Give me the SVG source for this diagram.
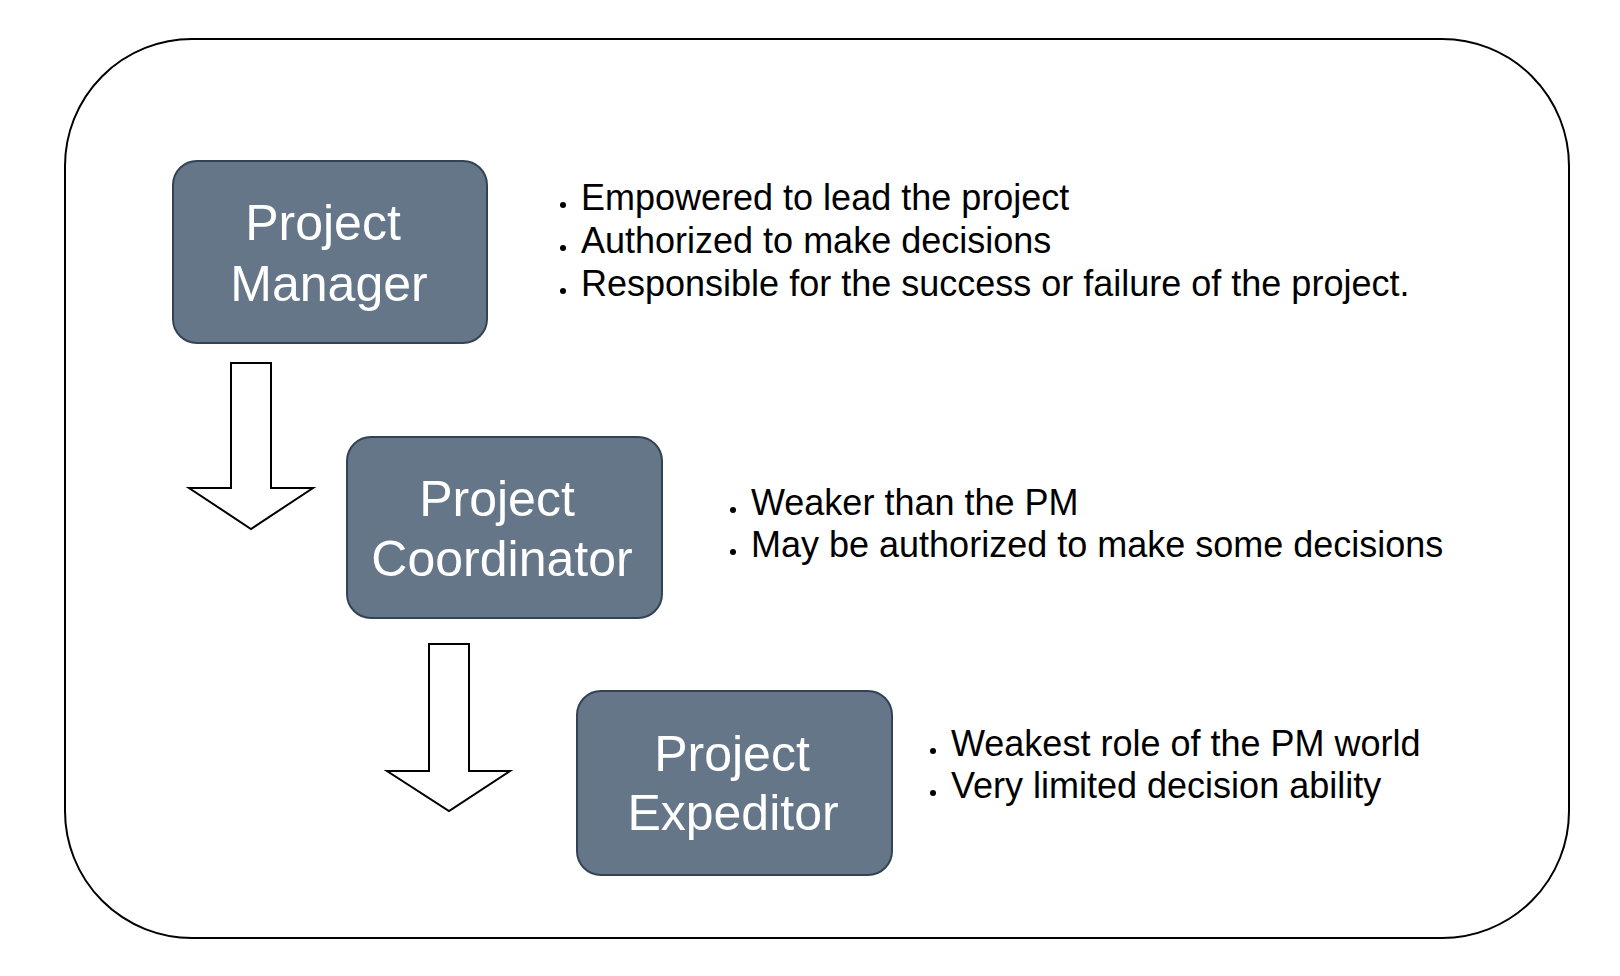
<svg xmlns="http://www.w3.org/2000/svg" width="1620" height="976" viewBox="0 0 1620 976">
  <style>
    .frame { fill: #ffffff; stroke: #000000; stroke-width: 2; }
    .role { fill: #647687; stroke: #314354; stroke-width: 2; }
    .role-label { font-family: "Liberation Sans", Arial, Helvetica, sans-serif; font-size: 50px; fill: #ffffff; text-anchor: middle; }
    .note { font-family: "Liberation Sans", Arial, Helvetica, sans-serif; font-size: 36px; fill: #000000; }
    .dot { fill: #000000; }
    .flow { fill: #ffffff; stroke: #000000; stroke-width: 2; stroke-linejoin: miter; }
  </style>

  <!-- outer rounded frame -->
  <rect class="frame" x="65" y="39" width="1504" height="899" rx="127" ry="127"/>

  <!-- role: Project Manager -->
  <g id="node-project-manager">
    <rect class="role" x="173" y="161" width="314" height="182" rx="24" ry="24"/>
    <text class="role-label" x="323" y="240">Project</text>
    <text class="role-label" x="329" y="301">Manager</text>
  </g>

  <g id="notes-project-manager">
    <circle class="dot" cx="563" cy="205" r="3"/>
    <circle class="dot" cx="563" cy="248" r="3"/>
    <circle class="dot" cx="563" cy="291" r="3"/>
    <text class="note" x="581" y="210">Empowered to lead the project</text>
    <text class="note" x="581" y="253">Authorized to make decisions</text>
    <text class="note" x="581" y="296">Responsible for the success or failure of the project.</text>
  </g>

  <!-- role: Project Coordinator -->
  <g id="node-project-coordinator">
    <rect class="role" x="347" y="437" width="315" height="181" rx="24" ry="24"/>
    <text class="role-label" x="497" y="516">Project</text>
    <text class="role-label" x="502" y="576">Coordinator</text>
  </g>

  <g id="notes-project-coordinator">
    <circle class="dot" cx="733" cy="510" r="3"/>
    <circle class="dot" cx="733" cy="552" r="3"/>
    <text class="note" x="751" y="515">Weaker than the PM</text>
    <text class="note" x="751" y="557">May be authorized to make some decisions</text>
  </g>

  <!-- role: Project Expeditor -->
  <g id="node-project-expeditor">
    <rect class="role" x="577" y="691" width="315" height="184" rx="24" ry="24"/>
    <text class="role-label" x="732" y="771">Project</text>
    <text class="role-label" x="733" y="830">Expeditor</text>
  </g>

  <g id="notes-project-expeditor">
    <circle class="dot" cx="933" cy="751" r="3"/>
    <circle class="dot" cx="933" cy="793" r="3"/>
    <text class="note" x="951" y="756">Weakest role of the PM world</text>
    <text class="note" x="951" y="798">Very limited decision ability</text>
  </g>

  <!-- block arrows showing the descending hierarchy -->
  <g id="connectors">
    <path class="flow" d="M231,363 H271 V488 H313 L251,529 L189,488 H231 Z"/>
    <path class="flow" d="M429,644 H469 V771 H510 L449,811 L387,771 H429 Z"/>
  </g>
</svg>
